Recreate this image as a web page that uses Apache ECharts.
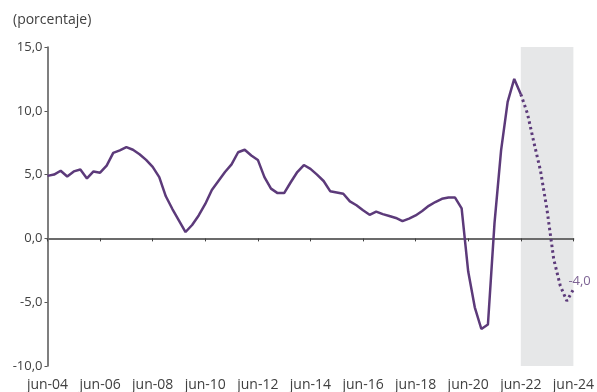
<!DOCTYPE html>
<html>
<head>
<meta charset="utf-8">
<script src="https://cdn.jsdelivr.net/npm/echarts@6/dist/echarts.min.js"></script>
<style>
html,body{margin:0;padding:0;background:#fff;overflow:hidden;}
#c{width:597px;height:392px;}
</style>
</head>
<body>
<div id="c"></div>
<script>
// Quarterly categories, jun-04 ... jun-24
const months = ['jun', 'sep', 'dic', 'mar'];
const categories = [];
for (let i = 0; i <= 80; i++) {
  const m = months[i % 4];
  const yr = 4 + Math.floor((i + 1) / 4);
  categories.push(m + '-' + String(yr).padStart(2, '0'));
}

// Observed values (jun-04 .. jun-22)
const observed = [
  4.9, 5.0, 5.3, 4.85, 5.25, 5.4, 4.7, 5.25, 5.15, 5.7,
  6.7, 6.9, 7.15, 6.95, 6.6, 6.15, 5.6, 4.8, 3.3, 2.3,
  1.4, 0.5, 1.05, 1.8, 2.7, 3.8, 4.5, 5.2, 5.8, 6.75,
  6.95, 6.5, 6.15, 4.8, 3.9, 3.55, 3.55, 4.4, 5.2, 5.75,
  5.45, 5.0, 4.5, 3.7, 3.6, 3.5, 2.9, 2.6, 2.2, 1.85,
  2.1, 1.9, 1.75, 1.6, 1.35, 1.55, 1.8, 2.15, 2.55, 2.85,
  3.1, 3.2, 3.2, 2.35, -2.6, -5.4, -7.1, -6.75, 1.2, 6.9,
  10.7, 12.5, 11.3
];

// Projection (jun-22 .. jun-24)
const projection = [11.3, 9.8, 7.5, 5.3, 2.2, -1.6, -3.7, -4.9, -4.0];

const yTicks = [-10, -5, 0, 5, 10, 15];
const shadeFrom = 'jun-22';
const shadeTo = 'jun-24';
const unitLabel = '(porcentaje)';

const solidData = categories.map((c, i) => i < observed.length ? observed[i] : null);
const projStart = categories.length - projection.length;
const dottedData = categories.map((c, i) => i >= projStart ? projection[i - projStart] : null);

const fmt = (v) => v.toFixed(1).replace('.', ',');
const purple = '#5c3a7a';
const font = 'Open Sans';

const chart = echarts.init(document.getElementById('c'), null, {renderer: 'canvas', width: 597, height: 392});
chart.setOption({
  animation: false,
  backgroundColor: '#ffffff',
  title: {
    text: unitLabel, left: 8, top: 8,
    textStyle: {fontSize: 14, fontWeight: 'normal', color: '#404040', fontFamily: font}
  },
  grid: {left: 47.5, right: 19.5, top: 47, bottom: 26, containLabel: false},
  xAxis: [
    {
      type: 'category', data: categories, boundaryGap: false, position: 'bottom',
      axisLine: {show: false, onZero: false},
      axisTick: {show: false},
      axisLabel: {
        interval: (i) => i % 8 === 0, margin: 12,
        color: '#404040', fontSize: 14, fontFamily: font
      },
      splitLine: {show: false}
    },
    {
      type: 'category', data: categories, boundaryGap: false, position: 'bottom', z: 2,
      axisLine: {show: true, onZero: true, lineStyle: {color: '#6b6b6b', width: 2}},
      axisTick: {show: true, interval: (i) => i % 8 === 0, length: 3, lineStyle: {color: '#404040', width: 1}},
      axisLabel: {show: false},
      splitLine: {show: false}
    }
  ],
  yAxis: {
    type: 'value', min: yTicks[0], max: yTicks[yTicks.length - 1], interval: 5,
    axisLine: {show: true, lineStyle: {color: '#555555', width: 1.5}},
    axisTick: {show: true, length: 3, lineStyle: {color: '#555555'}},
    axisLabel: {formatter: fmt, color: '#404040', fontSize: 13, fontFamily: font, margin: 5},
    splitLine: {show: false}
  },
  series: [
    {
      type: 'line', xAxisIndex: 0, data: [], z: 1, silent: true,
      markArea: {
        silent: true,
        itemStyle: {color: '#e6e7e8'},
        data: [[{xAxis: shadeFrom}, {xAxis: shadeTo}]]
      }
    },
    {
      type: 'line', xAxisIndex: 0, data: solidData, z: 3, showSymbol: false, symbol: 'none',
      lineStyle: {color: purple, width: 2.5}, connectNulls: false
    },
    {
      type: 'line', xAxisIndex: 0, data: dottedData, z: 3, showSymbol: false, symbol: 'none',
      lineStyle: {color: purple, width: 3, type: [2.5, 3.2], cap: 'butt'}, connectNulls: false,
      endLabel: {
        show: true, distance: 0, offset: [-5, -8],
        formatter: (p) => fmt(p.value),
        color: '#7d6394', fontSize: 13, fontFamily: font
      }
    }
  ]
});
</script>
</body>
</html>
